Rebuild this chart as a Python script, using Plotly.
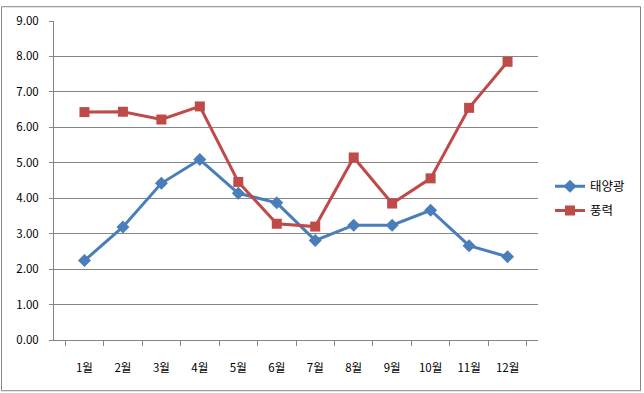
import plotly.graph_objects as go

months = ["1월", "2월", "3월", "4월", "5월", "6월", "7월", "8월", "9월", "10월", "11월", "12월"]
solar = [2.24, 3.19, 4.42, 5.09, 4.14, 3.87, 2.81, 3.24, 3.24, 3.66, 2.66, 2.35]
wind = [6.43, 6.44, 6.22, 6.59, 4.46, 3.28, 3.20, 5.15, 3.85, 4.56, 6.55, 7.85]
y_ticks = [0, 1, 2, 3, 4, 5, 6, 7, 8, 9]

W, H = 644, 393
L, R, T, B = 54, 106, 16, 53
pw, ph = W - L - R, H - T - B

fig = go.Figure()
fig.add_trace(go.Scatter(
    x=months, y=solar, name="태양광", mode="lines+markers",
    line=dict(color="#4A7EBB", width=3),
    marker=dict(symbol="diamond", size=10, color="#4A7EBB"),
    legendgroup="a",
))
fig.add_trace(go.Scatter(
    x=months, y=wind, name="풍력", mode="lines+markers",
    line=dict(color="#BE4B48", width=3),
    marker=dict(symbol="square", size=10, color="#BE4B48"),
    legendgroup="b",
))

gray = "#868686"
fig.update_layout(
    width=W, height=H,
    margin=dict(l=L, r=R, t=T, b=B, pad=0),
    paper_bgcolor="white", plot_bgcolor="white",
    font=dict(family="Noto Sans CJK KR, Malgun Gothic, sans-serif", size=11.5, color="black"),
    showlegend=True,
    legend=dict(
        x=(550 - L) / pw, xanchor="left",
        y=(340 - 196.5) / ph, yanchor="middle",
        traceorder="grouped", tracegroupgap=5,
        font=dict(size=12.5), bgcolor="rgba(0,0,0,0)",
    ),
    xaxis=dict(
        type="category", showgrid=False, showline=True, linecolor=gray, linewidth=1,
        ticks="outside", tickson="boundaries", ticklen=5, tickcolor=gray,
        ticklabelstandoff=17, fixedrange=True,
    ),
    yaxis=dict(
        range=[0, 9], tickvals=y_ticks, tickformat=".2f",
        showgrid=True, gridcolor=gray, gridwidth=1,
        showline=True, linecolor=gray, linewidth=1,
        ticks="outside", ticklen=4, tickcolor=gray,
        ticklabelstandoff=8, zeroline=False, fixedrange=True,
    ),
    shapes=[dict(
        type="rect", xref="paper", yref="paper",
        x0=(1.5 - L) / pw, x1=(640.5 - L) / pw,
        y0=(340 - 391.5) / ph,
        y1=(340 - 1.5) / ph,
        line=dict(color=gray, width=1), fillcolor="rgba(0,0,0,0)", layer="below",
    )],
)

fig.write_html(
    "out.html",
    config={"displayModeBar": False},
    post_script="document.body.style.margin='0';document.body.style.padding='0';"
    "var d=document.getElementById('{plot_id}');d.style.position='absolute';d.style.left='0';d.style.top='0';",
)
